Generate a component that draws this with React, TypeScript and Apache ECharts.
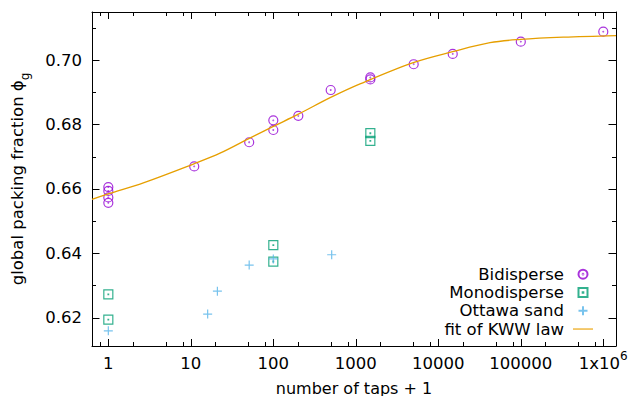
import React, { useEffect, useRef } from 'react';
import * as echarts from 'echarts';

// ---- data (x = number of taps + 1) ----
const bidiX = [1, 1, 1, 1, 11, 51, 100, 100, 201, 496, 1500, 1500, 5030, 14960, 100000, 1000000];
const bidiY = [0.6606, 0.6594, 0.6574, 0.6557, 0.667, 0.6745, 0.6813, 0.6783, 0.6827, 0.6907, 0.6946, 0.694, 0.6987, 0.7019, 0.7057, 0.7088];

const monoX = [1, 1, 100, 100, 1500, 1500];
const monoY = [0.6273, 0.6195, 0.6426, 0.6375, 0.6773, 0.6749];

const sandX = [1, 16, 21, 51, 100, 510];
const sandY = [0.616, 0.6212, 0.6283, 0.6364, 0.6383, 0.6396];

const fitX = [0.634, 1, 2.66, 10.9, 22.6, 51.2, 100, 201, 496, 1125, 4977, 14960, 42360, 100000, 327000, 1426000];
const fitY = [0.6568, 0.6585, 0.6619, 0.6678, 0.6711, 0.6757, 0.6794, 0.6832, 0.6884, 0.6926, 0.6992, 0.7026, 0.7054, 0.7064, 0.7071, 0.7076];

const xMajorTicks = [1, 10, 100, 1000, 10000, 100000, 1000000];
const xMinorTicks = [0.8, 2, 5, 8, 20, 50, 80, 200, 500, 800, 2000, 5000, 8000, 20000, 50000, 80000, 200000, 500000, 800000];
const yMajorTicks = [0.62, 0.64, 0.66, 0.68, 0.7];
const yMinorTicks = [0.63, 0.65, 0.67, 0.69, 0.71];

const seriesNames = ['Bidisperse', 'Monodisperse', 'Ottawa sand', 'fit of KWW law'];

const FONT = 'DejaVu Sans';
const FS = 16.5;

const CIRCLE_DOT = 'path://M0,-10A10,10 0 1,1 0,10A10,10 0 1,1 0,-10ZM0,-0.7A0.7,0.7 0 1,1 0,0.7A0.7,0.7 0 1,1 0,-0.7Z';
const SQUARE_DOT = 'path://M-10,-10L10,-10L10,10L-10,10ZM-0.7,-0.7L0.7,-0.7L0.7,0.7L-0.7,0.7Z';
const PLUS = 'path://M-10,0L10,0M0,-10L0,10';
const LINE_ICON = 'path://M0,0L20,0L20,1.5L0,1.5Z';

function pairs(xs: number[], ys: number[]) {
  return xs.map((x, i) => [x, ys[i]]);
}

export default function App() {
  const ref = useRef<HTMLDivElement>(null);
  useEffect(() => {
    const chart = echarts.init(ref.current!, null, { renderer: 'svg' });
    const xMin = 0.634;
    const xMax = 1.426e6;
    const yMin = 0.6113;
    const yMax = 0.7149;
    const line = { show: true, lineStyle: { color: '#000', width: 1 } };
    const noLine = { show: false };
    const xBase = (pos: string, ticks: number[], len: number, showLine: boolean, labels: boolean): any => ({
      type: 'log',
      logBase: 10,
      min: xMin,
      max: xMax,
      position: pos,
      splitLine: { show: false },
      axisLine: showLine ? line : noLine,
      axisTick: { show: true, inside: true, length: len, customValues: ticks, lineStyle: { color: '#000', width: 1 } },
      axisLabel: labels
        ? {
            show: true,
            customValues: xMajorTicks,
            margin: 4,
            formatter: (v: number) => (v >= 999999 ? '{a|1x10}{s|6}' : `{a|${Math.round(v)}}`),
            rich: {
              a: { fontFamily: FONT, fontSize: FS, color: '#000', lineHeight: 22, verticalAlign: 'bottom' },
              s: { fontFamily: FONT, fontSize: 12, color: '#000', lineHeight: 12, verticalAlign: 'top' },
            },
          }
        : { show: false },
    });
    const yBase = (pos: string, ticks: number[], len: number, showLine: boolean, labels: boolean): any => ({
      type: 'value',
      min: yMin,
      max: yMax,
      position: pos,
      splitLine: { show: false },
      axisLine: showLine ? line : noLine,
      axisTick: { show: true, inside: true, length: len, customValues: ticks, lineStyle: { color: '#000', width: 1 } },
      axisLabel: labels
        ? {
            show: true,
            customValues: yMajorTicks,
            margin: 10,
            fontFamily: FONT,
            fontSize: FS,
            color: '#000',
            formatter: (v: number) => v.toFixed(2),
          }
        : { show: false },
    });

    const xAxis = [
      {
        ...xBase('bottom', xMajorTicks, 7, true, true),
        name: 'number of taps + 1',
        nameLocation: 'middle',
        nameGap: 34,
        nameTextStyle: { fontFamily: FONT, fontSize: 16, color: '#000' },
      },
      xBase('top', xMajorTicks, 7, true, false),
      xBase('top', xMinorTicks, 4, false, false),
      xBase('bottom', xMinorTicks, 4, false, false),
    ];
    const yAxis = [
      {
        ...yBase('left', yMajorTicks, 7.5, true, true),
        name: '{n|global packing fraction \u03d5}{s|g}',
        nameLocation: 'middle',
        nameGap: 61,
        nameRotate: 90,
        nameTextStyle: {
          rich: {
            n: { fontFamily: FONT, fontSize: FS, color: '#000', lineHeight: 22, verticalAlign: 'top' },
            s: { fontFamily: FONT, fontSize: 12, color: '#000', lineHeight: 12, verticalAlign: 'bottom' },
          },
        },
      },
      yBase('right', yMajorTicks, 7.5, true, false),
      yBase('right', yMinorTicks, 4, false, false),
      yBase('left', yMinorTicks, 4, false, false),
    ];

    chart.setOption({
      animation: false,
      backgroundColor: '#fff',
      textStyle: { fontFamily: FONT },
      grid: { left: 92, right: 14, top: 12, bottom: 50, containLabel: false, outerBoundsMode: 'none' },
      xAxis,
      yAxis,
      legend: {
        orient: 'vertical',
        right: 37,
        top: 265,
        padding: 0,
        align: 'right',
        itemWidth: 20,
        itemHeight: 9,
        itemGap: 0,
        data: [
          { name: seriesNames[0] },
          { name: seriesNames[1] },
          { name: seriesNames[2] },
          { name: seriesNames[3], icon: LINE_ICON, itemStyle: { color: '#f0b840', borderWidth: 0 } },
        ],
        textStyle: { fontFamily: FONT, fontSize: FS, color: '#000', lineHeight: 18.3, padding: [0, 4, 0, 0] },
      },
      series: [
        {
          name: seriesNames[0],
          type: 'scatter',
          data: pairs(bidiX, bidiY),
          symbol: CIRCLE_DOT,
          symbolSize: 9,
          itemStyle: { color: 'transparent', borderColor: '#9400d3', borderWidth: 1.2 },
        },
        {
          name: seriesNames[1],
          type: 'scatter',
          data: pairs(monoX, monoY),
          symbol: SQUARE_DOT,
          symbolSize: 9,
          itemStyle: { color: 'transparent', borderColor: '#009e73', borderWidth: 1.2 },
        },
        {
          name: seriesNames[2],
          type: 'scatter',
          data: pairs(sandX, sandY),
          symbol: PLUS,
          symbolSize: 9,
          itemStyle: { color: 'transparent', borderColor: '#56b4e9', borderWidth: 1.2 },
        },
        {
          name: seriesNames[3],
          type: 'line',
          data: pairs(fitX, fitY),
          showSymbol: false,
          symbol: 'none',
          smooth: 0.35,
          lineStyle: { color: '#e69f00', width: 1.3 },
          itemStyle: { color: '#e69f00' },
        },
      ],
    });
    return () => chart.dispose();
  }, []);
  return <div ref={ref} style={{ position: 'fixed', left: 0, top: 0, width: 630, height: 396 }} />;
}
